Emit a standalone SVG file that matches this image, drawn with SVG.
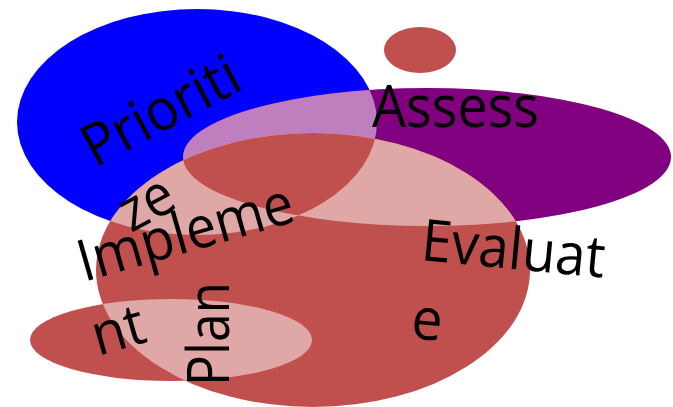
<svg xmlns="http://www.w3.org/2000/svg" width="673" height="407" viewBox="0 0 673 407">
  <style>
    .lbl { font-family: "Open Sans", "Noto Sans", sans-serif; font-size: 58px; fill: #000; }
    .red { fill: #C0504D; }
    .pink { fill: #DFA7A6; }
    .lav { fill: #BF7FBF; }
  </style>
  <defs>
    <ellipse id="shpBlue" cx="197" cy="122" rx="180" ry="113"/>
    <ellipse id="shpPurple" cx="427" cy="157" rx="244" ry="69"/>
    <ellipse id="shpRed" cx="313" cy="270" rx="217" ry="137"/>
    <ellipse id="shpLow" cx="171" cy="340" rx="141" ry="41"/>
    <clipPath id="inBlue"><use href="#shpBlue"/></clipPath>
    <clipPath id="inPurple"><use href="#shpPurple"/></clipPath>
    <clipPath id="inRed"><use href="#shpRed"/></clipPath>
  </defs>

  <!-- base shapes -->
  <g id="prioritize-shape"><use href="#shpBlue" fill="#0000FF"/></g>
  <g id="assess-shape"><use href="#shpPurple" fill="#800080"/></g>
  <g id="evaluate-shape"><use href="#shpRed" class="red"/></g>
  <g id="plan-shape"><use href="#shpLow" class="red"/></g>
  <g id="dot"><ellipse cx="420" cy="50" rx="36" ry="23" class="red"/></g>

  <!-- overlap shading -->
  <g id="overlaps">
    <g clip-path="url(#inBlue)"><use href="#shpPurple" class="lav"/></g>
    <g clip-path="url(#inRed)">
      <use href="#shpBlue" class="pink"/>
      <use href="#shpPurple" class="pink"/>
      <use href="#shpLow" class="pink"/>
      <g clip-path="url(#inBlue)"><use href="#shpPurple" class="red"/></g>
    </g>
  </g>

  <!-- labels -->
  <g id="prioritize">
    <text class="lbl" transform="translate(95,168) rotate(-28)" textLength="170" lengthAdjust="spacingAndGlyphs">Prioriti</text>
    <text class="lbl" transform="translate(131,233) rotate(-28)" textLength="55" lengthAdjust="spacingAndGlyphs">ze</text>
  </g>
  <g id="assess">
    <text class="lbl" x="372" y="127" textLength="167" lengthAdjust="spacingAndGlyphs">Assess</text>
  </g>
  <g id="implement">
    <text class="lbl" transform="translate(84,282) rotate(-16)" textLength="222" lengthAdjust="spacingAndGlyphs">Impleme</text>
    <text class="lbl" transform="translate(98,356) rotate(-16)" textLength="53" lengthAdjust="spacingAndGlyphs">nt</text>
  </g>
  <g id="evaluate">
    <text class="lbl" transform="translate(420,260) rotate(5.5)" textLength="184" lengthAdjust="spacingAndGlyphs">Evaluat</text>
    <text class="lbl" transform="translate(410,338) rotate(5.5)" textLength="31" lengthAdjust="spacingAndGlyphs">e</text>
  </g>
  <g id="plan">
    <text class="lbl" transform="translate(229,386) rotate(-90)" textLength="104" lengthAdjust="spacingAndGlyphs">Plan</text>
  </g>
</svg>
